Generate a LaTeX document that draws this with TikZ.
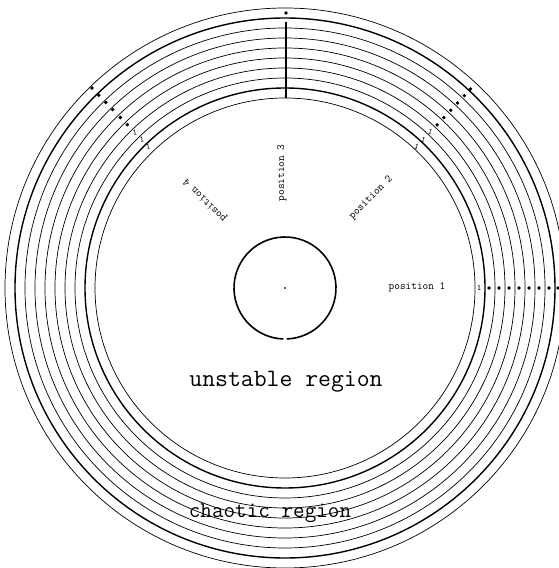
\documentclass[tikz,border=0pt]{standalone}
\usetikzlibrary{calc}
\begin{document}
\begin{tikzpicture}[x=1pt,y=1pt,
  ring/.style={line width=0.7pt},
  thickring/.style={line width=1.4pt},
  pt/.style={circle,fill,inner sep=0pt,minimum size=3.8pt},
  one/.style={font=\ttfamily\fontsize{8.5}{8.5}\selectfont,inner sep=0pt},
  poslbl/.style={font=\ttfamily\fontsize{11}{11}\selectfont,inner sep=0pt},
  region/.style={font=\ttfamily\fontsize{25}{25}\selectfont,inner sep=0pt}]
\useasboundingbox (0,0) rectangle (559,568);
\fill[white] (0,0) rectangle (559,568);
\clip (0,0) rectangle (559,568);
\coordinate (O) at (285,280);
% rings of the chaotic region
\foreach \r in {190,210,220,230,240,250,260,280}
  \draw[ring] (O) circle[radius=\r];
\foreach \r in {200,270}
  \draw[thickring] (O) circle[radius=\r];
% inner circle (small gap at bottom)
\draw[line width=1.6pt] ($(O)+(-88:51)$) arc[start angle=-88, end angle=268, radius=51];
\fill (O) circle[radius=1];
% position 1
\node[one] (p1one) at ($(O)+(0:194)$) {1};
\foreach \r [count=\i] in {204,214,224,234,244,254,264,273}
  \node[pt] (p1d\i) at ($(O)+(0:\r)$) {};
% position 2
\foreach \r [count=\i] in {193,203,213}
  \node[one,rotate=-20] (p2one\i) at ($(O)+(47:\r)$) {1};
\foreach \r [count=\i] in {223,233,243,253,263,272}
  \node[pt] (p2d\i) at ($(O)+(47:\r)$) {};
% position 4
\foreach \r [count=\i] in {197,206,216}
  \node[one,rotate=10] (p4one\i) at ($(O)+(134:\r)$) {1};
\foreach \r [count=\i] in {227,237,248,258,268,278}
  \node[pt] (p4d\i) at ($(O)+(134:\r)$) {};
% position 3
\coordinate (p3a) at ($(O)+(1,190)$);
\coordinate (p3b) at ($(O)+(1,266)$);
\draw[line width=1.1pt] (p3a) -- (p3b);
\node[pt] (p3d) at ($(O)+(1,275)$) {};
% labels
\node[poslbl] (pos1) at (417,281) {position 1};
\node[poslbl,rotate=45] (pos2) at (371,370) {position 2};
\node[poslbl,rotate=90] (pos3) at (282,395) {position 3};
\node[poslbl,rotate=135] (pos4) at (205,368) {position 4};
\node[region] (unst) at (286,186) {unstable region};
\node[region,font=\ttfamily\fontsize{22.5}{22.5}\selectfont] (chaos) at (270,55) {chaotic region};
\end{tikzpicture}
\end{document}
